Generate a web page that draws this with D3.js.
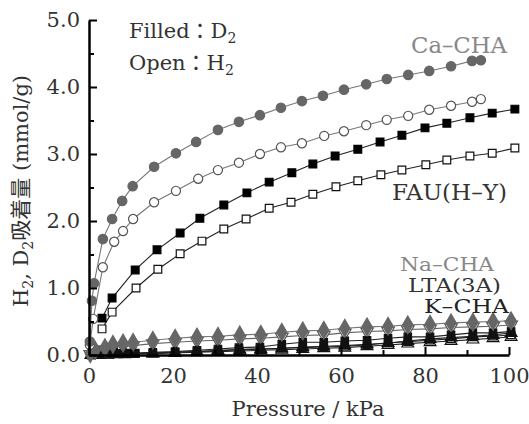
<!DOCTYPE html>
<html>
<head>
<meta charset="utf-8">
<script src="https://cdn.jsdelivr.net/npm/d3@7"></script>
<style>
  body { margin: 0; background: #fff; }
  svg text { font-family: "DejaVu Serif", "Liberation Serif", "Noto Sans CJK JP", serif; }
</style>
</head>
<body>
<svg id="chart" width="529" height="424"></svg>
<script>
// Ca-CHA
const caD2x = [0.2, 0.7, 1.2, 3.3, 5.5, 7.9, 10.4, 15.5, 20.7, 25.5, 30.7, 35.7, 40.7, 45.7, 50.7, 55.7, 60.7, 66.0, 70.9, 76.0, 81.0, 86.2, 91.2, 93.3];
const caD2y = [0.20, 0.81, 1.07, 1.73, 2.03, 2.30, 2.52, 2.81, 3.01, 3.18, 3.36, 3.48, 3.58, 3.69, 3.79, 3.87, 3.96, 4.04, 4.12, 4.18, 4.24, 4.31, 4.39, 4.40];
const caH2x = [0.2, 1.0, 3.3, 6.0, 8.1, 10.5, 15.5, 20.7, 26.0, 30.7, 35.7, 40.7, 45.7, 50.7, 56.0, 60.7, 66.0, 70.9, 76.0, 81.0, 86.2, 91.2, 93.3];
const caH2y = [0.15, 0.54, 1.31, 1.69, 1.85, 2.03, 2.28, 2.45, 2.63, 2.76, 2.87, 3.00, 3.10, 3.16, 3.27, 3.34, 3.43, 3.51, 3.57, 3.66, 3.72, 3.78, 3.82];
// FAU(H-Y)
const fauD2x = [3.1, 5.5, 11.0, 16.2, 21.7, 26.4, 32.1, 37.6, 42.9, 48.3, 53.3, 58.6, 64.0, 69.3, 74.5, 80.0, 85.2, 90.7, 96.0, 101.4];
const fauD2y = [0.55, 0.85, 1.27, 1.57, 1.82, 2.04, 2.24, 2.42, 2.58, 2.72, 2.85, 2.97, 3.07, 3.18, 3.28, 3.39, 3.46, 3.54, 3.61, 3.67];
const fauH2x = [3.1, 5.5, 11.2, 16.4, 21.7, 26.9, 32.1, 37.4, 42.9, 48.1, 53.3, 58.8, 64.0, 69.5, 74.5, 80.2, 85.2, 90.7, 96.0, 101.4];
const fauH2y = [0.39, 0.64, 1.00, 1.28, 1.51, 1.70, 1.88, 2.03, 2.19, 2.28, 2.40, 2.51, 2.60, 2.69, 2.76, 2.84, 2.91, 2.97, 3.01, 3.09];
// Na-CHA
const naX = [0.3, 1.5, 3.8, 5.7, 8.1, 10.5, 15.2, 20.5, 25.7, 30.7, 35.9, 40.9, 45.9, 50.9, 55.9, 60.9, 66.2, 71.2, 75.9, 81.2, 86.2, 91.4, 96.2, 100.5];
const naD2y = [0.02, 0.07, 0.11, 0.16, 0.18, 0.19, 0.22, 0.25, 0.27, 0.28, 0.30, 0.31, 0.34, 0.36, 0.37, 0.40, 0.42, 0.43, 0.45, 0.46, 0.48, 0.49, 0.50, 0.51];
const naH2y = [0.01, 0.05, 0.08, 0.12, 0.13, 0.14, 0.17, 0.19, 0.21, 0.22, 0.24, 0.25, 0.27, 0.29, 0.30, 0.33, 0.35, 0.36, 0.38, 0.39, 0.41, 0.42, 0.43, 0.45];
// LTA(3A)
const ltaX = [0.5, 3.0, 5.0, 7.0, 9.0, 11.0, 15.2, 20.5, 25.7, 30.7, 35.7, 40.7, 45.9, 50.9, 55.9, 60.9, 66.2, 71.2, 75.9, 81.2, 86.2, 91.4, 96.2, 100.5];
const ltaD2y = [0.00, 0.01, 0.02, 0.02, 0.03, 0.03, 0.04, 0.05, 0.07, 0.09, 0.11, 0.12, 0.16, 0.19, 0.19, 0.21, 0.22, 0.25, 0.27, 0.27, 0.30, 0.33, 0.33, 0.35];
const ltaH2y = [0.00, 0.01, 0.01, 0.02, 0.02, 0.02, 0.03, 0.04, 0.05, 0.06, 0.08, 0.09, 0.10, 0.11, 0.12, 0.13, 0.15, 0.18, 0.20, 0.22, 0.24, 0.27, 0.28, 0.30];
// K-CHA
const kX = [0.5, 2.5, 4.5, 6.5, 8.5, 10.5, 15.2, 20.5, 25.7, 30.7, 35.9, 40.9, 45.9, 50.9, 55.9, 60.9, 66.2, 71.2, 75.9, 81.2, 86.2, 91.4, 96.2, 100.5];
const kD2y = [0.00, 0.01, 0.01, 0.02, 0.02, 0.02, 0.03, 0.04, 0.05, 0.07, 0.08, 0.09, 0.10, 0.12, 0.13, 0.14, 0.16, 0.18, 0.21, 0.24, 0.26, 0.28, 0.30, 0.33];
const kH2y = [0.00, 0.00, 0.01, 0.01, 0.01, 0.02, 0.02, 0.03, 0.04, 0.05, 0.06, 0.07, 0.08, 0.09, 0.10, 0.11, 0.13, 0.15, 0.17, 0.19, 0.21, 0.23, 0.25, 0.27];

const xTicks = [0, 20, 40, 60, 80, 100];
const yTicks = [0, 1, 2, 3, 4, 5];

const svg = d3.select('#chart');
const x = d3.scaleLinear().domain([0, 100]).range([89, 509]);
const y = d3.scaleLinear().domain([0, 5]).range([355, 20]);

// series: drawn back to front
const series = [
  { xs: kX, ys: kH2y, shape: d3.symbolTriangle, fill: '#fff', stroke: '#111', line: '#222', size: 60 },
  { xs: ltaX, ys: ltaH2y, shape: d3.symbolSquare, fill: '#fff', stroke: '#111', line: '#222', size: 55 },
  { xs: naX, ys: naH2y, shape: d3.symbolTriangle, fill: '#fff', stroke: '#555', line: '#666', size: 70, rot: 180 },
  { xs: kX, ys: kD2y, shape: d3.symbolTriangle, fill: '#111', stroke: '#111', line: '#222', size: 60 },
  { xs: ltaX, ys: ltaD2y, shape: d3.symbolSquare, fill: '#111', stroke: '#111', line: '#222', size: 55 },
  { xs: naX, ys: naD2y, shape: d3.symbolDiamond, fill: '#666', stroke: '#666', line: '#777', size: 90 },
  { xs: fauH2x, ys: fauH2y, shape: d3.symbolSquare, fill: '#fff', stroke: '#111', line: '#222', size: 60 },
  { xs: fauD2x, ys: fauD2y, shape: d3.symbolSquare, fill: '#000', stroke: '#000', line: '#222', size: 60 },
  { xs: caH2x, ys: caH2y, shape: d3.symbolCircle, fill: '#fff', stroke: '#555', line: '#777', size: 66 },
  { xs: caD2x, ys: caD2y, shape: d3.symbolCircle, fill: '#666', stroke: '#666', line: '#777', size: 70 }
];

const line = d3.line().x(d => x(d[0])).y(d => y(d[1]));

series.forEach(s => {
  const pts = s.xs.map((v, i) => [v, s.ys[i]]);
  svg.append('path')
    .attr('d', line(pts))
    .attr('fill', 'none')
    .attr('stroke', s.line)
    .attr('stroke-width', 1.1);
  svg.selectAll(null)
    .data(pts)
    .enter()
    .append('path')
    .attr('d', d3.symbol().type(s.shape).size(s.size))
    .attr('transform', d => `translate(${x(d[0])},${y(d[1])}) rotate(${s.rot || 0})`)
    .attr('fill', s.fill)
    .attr('stroke', s.stroke)
    .attr('stroke-width', 1.2);
});

// axes, ticks pointing inward
svg.append('g')
  .attr('transform', 'translate(89,0)')
  .call(d3.axisLeft(y).tickValues(yTicks).tickFormat(d3.format('.1f'))
    .tickSizeInner(-8).tickSizeOuter(0).tickPadding(9));
svg.append('g')
  .attr('transform', 'translate(89,0)')
  .call(d3.axisLeft(y).tickValues([0.5, 1.5, 2.5, 3.5, 4.5]).tickFormat('')
    .tickSizeInner(-5).tickSizeOuter(0))
  .select('.domain').remove();

svg.append('g')
  .attr('transform', 'translate(0,355)')
  .call(d3.axisBottom(x).tickValues(xTicks)
    .tickSizeInner(-8).tickSizeOuter(0).tickPadding(13));
svg.append('g')
  .attr('transform', 'translate(0,355)')
  .call(d3.axisBottom(x).tickValues([10, 30, 50, 70, 90]).tickFormat('')
    .tickSizeInner(-5).tickSizeOuter(0))
  .select('.domain').remove();

svg.selectAll('.domain').attr('stroke', '#000').attr('stroke-width', 2.5);
svg.selectAll('.tick line').attr('stroke', '#000').attr('stroke-width', 2);
svg.selectAll('.tick text')
  .attr('font-size', 21)
  .attr('font-family', '"DejaVu Serif", serif')
  .attr('fill', '#333');

// axis titles
svg.append('text')
  .attr('x', 308).attr('y', 416)
  .attr('text-anchor', 'middle')
  .attr('font-size', 21)
  .attr('fill', '#333')
  .text('Pressure / kPa');

const yt = svg.append('text')
  .attr('transform', 'translate(28,191) rotate(-90)')
  .attr('text-anchor', 'middle')
  .attr('font-size', 21)
  .attr('fill', '#333');
yt.append('tspan').text('H');
yt.append('tspan').attr('font-size', 14).attr('dy', 5).text('2');
yt.append('tspan').attr('dy', -5).text(', D');
yt.append('tspan').attr('font-size', 14).attr('dy', 5).text('2');
yt.append('tspan').attr('dy', -5).text('吸着量 (mmol/g)');

// legend text
function subText(xp, yp, main, sub) {
  const t = svg.append('text').attr('x', xp).attr('y', yp)
    .attr('font-size', 21).attr('fill', '#333');
  t.append('tspan').text(main);
  t.append('tspan').attr('font-size', 14).attr('dy', 5).text(sub);
}
subText(129, 38, 'Filled：D', '2');
subText(129, 70, 'Open：H', '2');

// series labels
const labels = [
  { text: 'Ca–CHA', x: 507, y: 53, color: '#888', size: 22, len: 96 },
  { text: 'FAU(H–Y)', x: 507, y: 200, color: '#333', size: 22, len: 115 },
  { text: 'Na–CHA', x: 494, y: 271, color: '#888', size: 18, len: 94 },
  { text: 'LTA(3A)', x: 501, y: 292, color: '#333', size: 18, len: 93 },
  { text: 'K–CHA', x: 509, y: 313, color: '#222', size: 18, len: 85 }
];
svg.selectAll(null)
  .data(labels)
  .enter()
  .append('text')
  .attr('x', d => d.x - d.len)
  .attr('y', d => d.y)
  .attr('font-size', d => d.size)
  .attr('textLength', d => d.len)
  .attr('lengthAdjust', 'spacingAndGlyphs')
  .attr('fill', d => d.color)
  .text(d => d.text);
</script>
</body>
</html>
